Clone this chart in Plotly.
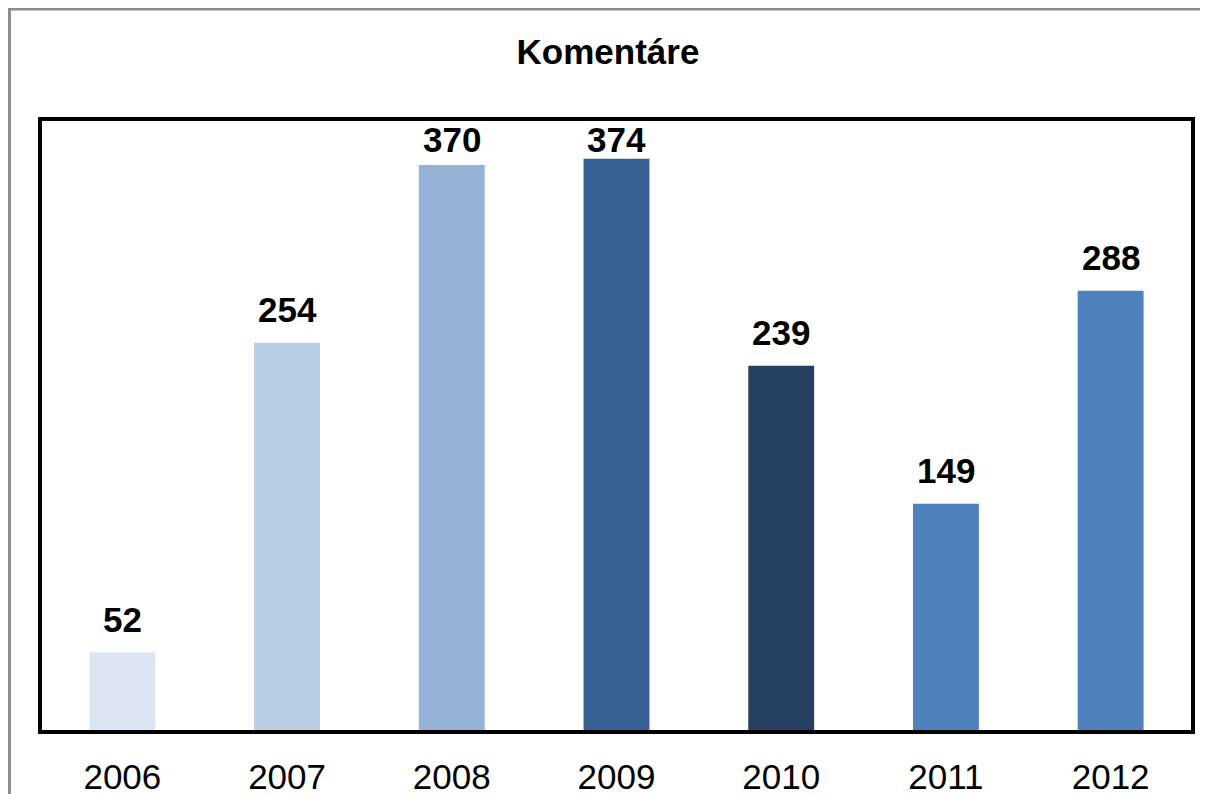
import plotly.graph_objects as go

years = ["2006", "2007", "2008", "2009", "2010", "2011", "2012"]
values = [52, 254, 370, 374, 239, 149, 288]
colors = ["#DCE6F2", "#B9CDE5", "#95B3D7", "#376092", "#254061", "#4F81BD", "#4F81BD"]
title_text = "Komentáre"

FONT = "Liberation Sans, Arial, sans-serif"
Y_MAX = 400
PLOT_H = 786 - 111 - 62  # plot area height in px

fig = go.Figure()
fig.add_trace(go.Bar(
    x=years, y=values, marker=dict(color=colors, line=dict(width=0)),
    showlegend=False,
))

# value labels (category axis: position by category index);
# labels that would rise past the plot top are kept inside it
for i, v in enumerate(values):
    natural = v / Y_MAX * PLOT_H + 33
    if natural > PLOT_H - 20:
        fig.add_annotation(x=i, y=Y_MAX, xref="x", yref="y", text=f"<b>{v}</b>",
                           showarrow=False, yanchor="middle", yshift=-20,
                           font=dict(family=FONT, size=35, color="black"))
    else:
        fig.add_annotation(x=i, y=v, xref="x", yref="y", text=f"<b>{v}</b>",
                           showarrow=False, yanchor="middle", yshift=33,
                           font=dict(family=FONT, size=35, color="black"))

# plot area border
fig.add_shape(type="rect", xref="paper", yref="paper", x0=0, x1=1, y0=0, y1=1,
              line=dict(color="black", width=4), layer="above")
# outer chart border
fig.add_shape(type="rect", xref="paper", yref="paper",
              x0=-0.0265, x1=1.1, y0=-0.3, y1=1.1794,
              line=dict(color="#8c8c8c", width=3), layer="above")

fig.update_layout(
    template="none",
    width=1200, height=786,
    margin=dict(l=32, r=15, t=111, b=62, autoexpand=False),
    paper_bgcolor="white", plot_bgcolor="white",
    bargap=0.6,
    title=dict(text=f"<b>{title_text}</b>", x=0.5, xanchor="center",
               y=1 - 44 / 786, yanchor="middle",
               font=dict(family=FONT, size=35, color="black")),
    xaxis=dict(type="category", showgrid=False, zeroline=False, showline=False,
               automargin=False, range=[-0.5, 6.5],
               ticks="outside", ticklen=14, tickcolor="rgba(0,0,0,0)",
               tickfont=dict(family=FONT, size=35, color="black")),
    yaxis=dict(range=[0, Y_MAX], showgrid=False, zeroline=False, showline=False,
               automargin=False, showticklabels=False, ticks=""),
)

fig.write_html("out.html")
